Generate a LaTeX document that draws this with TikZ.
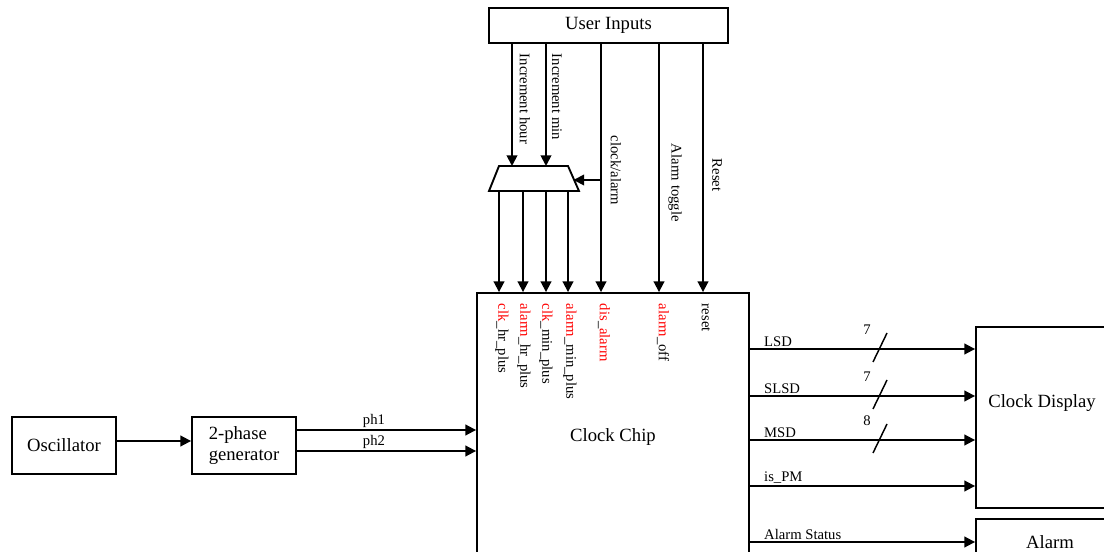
\documentclass[tikz,border=0pt]{standalone}
\usepackage{fontspec}
\setmainfont{Liberation Serif}
\usetikzlibrary{arrows.meta}
\begin{document}
\begin{tikzpicture}[x=0.75pt,y=-0.75pt,
  line width=1.4pt,
  arr/.style={-{Triangle[length=8pt,width=8pt]}},
  box/.style={draw,inner sep=0pt,font=\fontsize{14}{16}\selectfont},
  lab/.style={inner sep=1pt,font=\fontsize{11}{13}\selectfont},
  vlab/.style={rotate=-90,anchor=west,inner sep=0pt,font=\fontsize{11}{13}\selectfont},
  bigtxt/.style={inner sep=0pt,font=\fontsize{14}{16}\selectfont},
  busslash/.style={line width=1.1pt}]
\useasboundingbox (0,0) rectangle (1104,552);
\clip (0,0) rectangle (1104,552);

% boxes
\node[box,minimum width=179.25pt,minimum height=26.25pt] (ui) at (608.5,25.5) {User Inputs};
\node[box,minimum width=78pt,minimum height=42.75pt] (osc) at (64,445.5) {Oscillator};
\node[box,minimum width=78pt,minimum height=42.75pt,align=left] (gen) at (244,445.5) {2-phase\\generator};
\node[box,minimum width=204pt,minimum height=305.25pt] (chip) at (613,496.5) {};
\node[bigtxt] (chiptext) at (613,437) {Clock Chip};
\node[box,minimum width=115.5pt,minimum height=135.75pt] (disp) at (1053,417.5) {};
\node[bigtxt] (disptext) at (1042,403) {Clock Display};
\node[box,minimum width=115.5pt,minimum height=135.75pt] (alarm) at (1053,609.5) {};
\node[bigtxt] (alarmtext) at (1050,542) {Alarm};

% multiplexer (trapezoid)
\coordinate (muxTL) at (499,166);
\coordinate (muxTR) at (568,166);
\coordinate (muxBR) at (579,191);
\coordinate (muxBL) at (489,191);
\coordinate (muxN) at (534,166);
\coordinate (muxS) at (534,191);
\coordinate (muxE) at (573.5,180);
\draw (muxTL) -- (muxTR) -- (muxBR) -- (muxBL) -- cycle;

% x positions of vertical signals
\coordinate (xa) at (512,0);
\coordinate (xb) at (546,0);
\coordinate (xc) at (601,0);
\coordinate (xd) at (659,0);
\coordinate (xe) at (703,0);
\coordinate (o1) at (499,0);
\coordinate (o2) at (523,0);
\coordinate (o3) at (546,0);
\coordinate (o4) at (568,0);
% y positions of horizontal signals
\coordinate (y0) at (0,441);
\coordinate (y1) at (0,430);
\coordinate (y2) at (0,451);
\coordinate (yL) at (0,349);
\coordinate (yS) at (0,396);
\coordinate (yM) at (0,440);
\coordinate (yP) at (0,486);
\coordinate (yA) at (0,542);

% user input lines
\draw[arr] (ui.south -| xa) -- (muxN -| xa);
\draw[arr] (ui.south -| xb) -- (muxN -| xb);
\draw[arr] (ui.south -| xc) -- (chip.north -| xc);
\draw[arr] (muxE -| xc) -- (muxE);
\draw[arr] (ui.south -| xd) -- (chip.north -| xd);
\draw[arr] (ui.south -| xe) -- (chip.north -| xe);
\foreach \o in {o1,o2,o3,o4} \draw[arr] (muxS -| \o) -- (chip.north -| \o);

\node[vlab] (tinch) at (525,53) {Increment hour};
\node[vlab] (tincm) at (557,53) {Increment min};
\node[vlab] (tclk) at (616,135) {clock/alarm};
\node[vlab] (ttog) at (675,143) {Alarm toggle};
\node[vlab] (trst) at (717,158) {Reset};

% chip pin labels
\node[vlab] (p1) at (502,303) {\textcolor{red}{clk}\_hr\_plus};
\node[vlab] (p2) at (524,303) {\textcolor{red}{alarm}\_hr\_plus};
\node[vlab] (p3) at (546,303) {\textcolor{red}{clk}\_min\_plus};
\node[vlab] (p4) at (570,303) {\textcolor{red}{alarm}\_min\_plus};
\node[vlab] (p5) at (604,303) {\textcolor{red}{dis}\_\textcolor{red}{alarm}};
\node[vlab] (p6) at (663,303) {\textcolor{red}{alarm}\_off};
\node[vlab] (p7) at (706,303) {reset};

% left side
\draw[arr] (osc.east |- y0) -- (gen.west |- y0);
\draw[arr] (gen.east |- y1) -- (chip.west |- y1) node[lab,pos=0.43,above] {ph1};
\draw[arr] (gen.east |- y2) -- (chip.west |- y2) node[lab,pos=0.43,above] {ph2};

% right side outputs
\draw[arr] (chip.east |- yL) -- (disp.west |- yL) node[lab,pos=0,anchor=south west,xshift=9pt] {LSD};
\draw[arr] (chip.east |- yS) -- (disp.west |- yS) node[lab,pos=0,anchor=south west,xshift=9pt] {SLSD};
\draw[arr] (chip.east |- yM) -- (disp.west |- yM) node[lab,pos=0,anchor=south west,xshift=9pt] {MSD};
\draw[arr] (chip.east |- yP) -- (disp.west |- yP) node[lab,pos=0,anchor=south west,xshift=9pt] {is\_PM};
\draw[arr] (chip.east |- yA) -- (alarm.west |- yA) node[lab,pos=0,anchor=south west,xshift=9pt] {Alarm Status};

% bus width marks
\draw[busslash] (873,362) -- (887,333);
\node[lab] (wL) at (867,330) {7};
\draw[busslash] (873,409) -- (887,380);
\node[lab] (wS) at (867,377) {7};
\draw[busslash] (873,453) -- (887,424);
\node[lab] (wM) at (867,421) {8};
\end{tikzpicture}
\end{document}
